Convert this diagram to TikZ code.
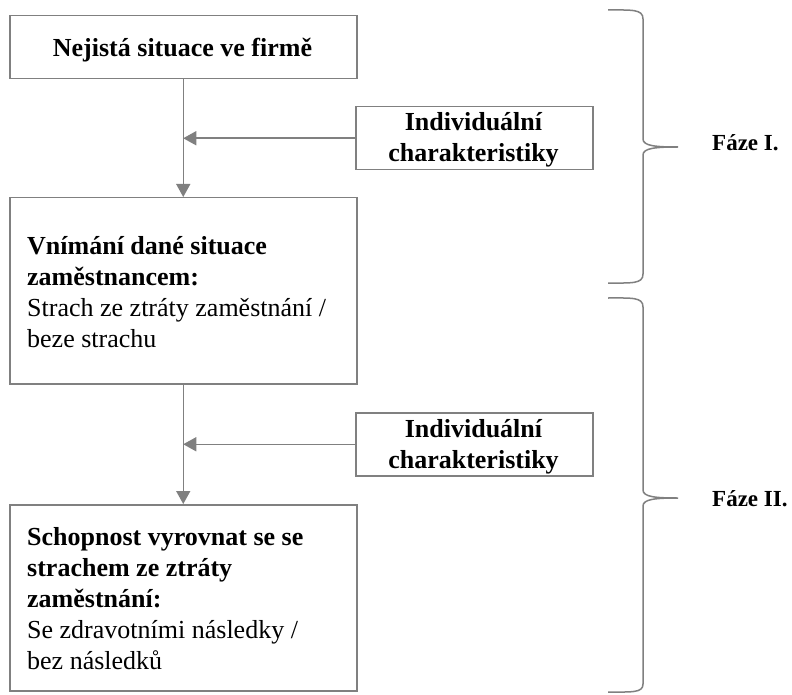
\documentclass[tikz,border=0pt]{standalone}
\usepackage{fontspec}
\setmainfont{Liberation Serif}
\usetikzlibrary{arrows.meta}
\definecolor{linegray}{RGB}{128,128,128}
\tikzset{
  box/.style={draw=linegray, line width=1.5pt, inner sep=0pt, anchor=north west},
  conn/.style={draw=linegray, line width=1.5pt, -{Triangle[length=13pt,width=14pt]}},
  bracepath/.style={draw=linegray, line width=1.5pt},
  txt/.style={inner sep=0pt, font=\fontsize{26}{31}\selectfont},
  btxt/.style={txt, font=\fontsize{26}{31}\selectfont\bfseries},
  phasetxt/.style={inner sep=0pt, font=\fontsize{23}{28}\selectfont\bfseries}
}
\begin{document}
\begin{tikzpicture}[x=1pt,y=-1pt]
  % page area
  \fill[white] (0,0) rectangle (792,695);
  \useasboundingbox (0,0) rectangle (792,695);

  % main boxes and side boxes
  \node[box, minimum width=347pt, minimum height=63pt]  (b1) at (9,15)   {};
  \node[box, minimum width=237pt, minimum height=63pt]  (s1) at (355,106) {};
  \node[box, minimum width=347pt, minimum height=186pt] (b2) at (9,197)  {};
  \node[box, minimum width=237pt, minimum height=63pt]  (s2) at (355,412) {};
  \node[box, minimum width=347pt, minimum height=186pt] (b3) at (9,504)  {};

  % texts
  \node[btxt, anchor=base] (t1) at (182.5,57) {Nejistá situace ve firmě};

  \node[btxt, anchor=base] (s1a) at (473.5,131) {Individuální};
  \node[btxt, anchor=base] (s1b) at (473.5,162) {charakteristiky};
  \node[btxt, anchor=base] (s2a) at (473.5,437) {Individuální};
  \node[btxt, anchor=base] (s2b) at (473.5,468) {charakteristiky};

  \node[btxt, anchor=base west] (b2a) at (27,254) {Vnímání dané situace};
  \node[btxt, anchor=base west] (b2b) at (27,285) {zaměstnancem:};
  \node[txt,  anchor=base west] (b2c) at (27,316) {Strach ze ztráty zaměstnání /};
  \node[txt,  anchor=base west] (b2d) at (27,347) {beze strachu};

  \node[btxt, anchor=base west] (b3a) at (27,545) {Schopnost vyrovnat se se};
  \node[btxt, anchor=base west] (b3b) at (27,576) {strachem ze ztráty};
  \node[btxt, anchor=base west] (b3c) at (27,607) {zaměstnání:};
  \node[txt,  anchor=base west] (b3d) at (27,638) {Se zdravotními následky /};
  \node[txt,  anchor=base west] (b3e) at (27,669) {bez následků};

  \node[phasetxt, anchor=base west] (f1) at (712,151) {Fáze I.};
  \node[phasetxt, anchor=base west] (f2) at (712,506) {Fáze II.};

  % connectors
  \draw[conn] (b1.south) -- (b2.north);
  \coordinate (j1) at (b1.south |- s1.west);
  \draw[conn] (s1.west) -- (j1);
  \draw[conn] (b2.south) -- (b3.north);
  \coordinate (j2) at (b2.south |- s2.west);
  \draw[conn] (s2.west) -- (j2);

  % phase braces
  \draw[bracepath] (608,10) .. controls (632,10) and (643,9) .. (643,19)
    -- (643,139) .. controls (643,146) and (656,147) .. (678,147)
    .. controls (656,147) and (643,148) .. (643,155)
    -- (643,274) .. controls (643,284) and (632,283) .. (608,283);
  \draw[bracepath] (608,298) .. controls (632,298) and (643,297) .. (643,307)
    -- (643,490) .. controls (643,497) and (656,498) .. (678,498)
    .. controls (656,498) and (643,499) .. (643,506)
    -- (643,684) .. controls (643,693) and (632,692) .. (608,692);
\end{tikzpicture}
\end{document}
